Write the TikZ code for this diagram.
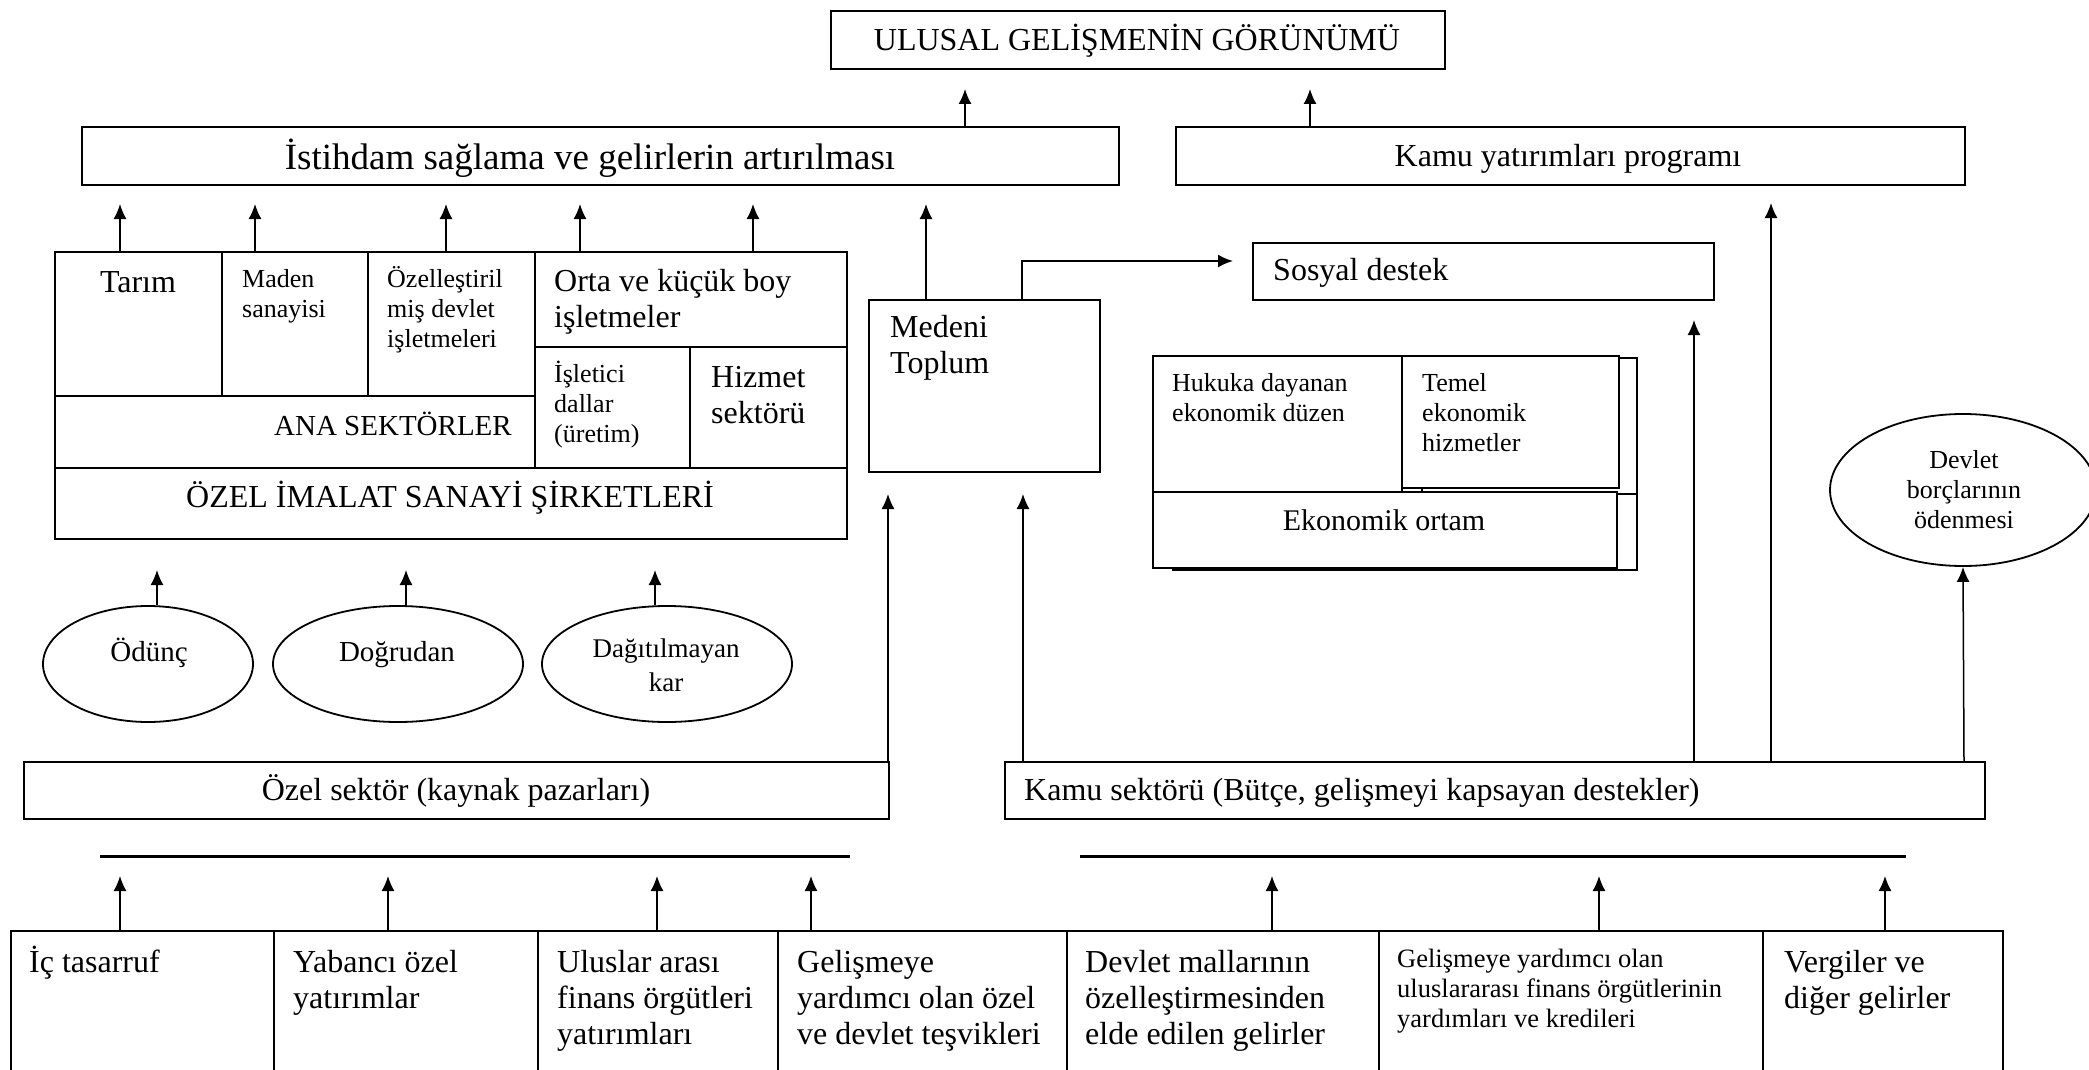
\documentclass[tikz,border=0pt]{standalone}
\usepackage{fontspec}
\setmainfont{Liberation Serif}
\usetikzlibrary{shapes.geometric,arrows.meta}
\begin{document}
\begin{tikzpicture}[x=1pt,y=-1pt,
  box/.style={draw, line width=2pt, fill=white, inner sep=0pt, anchor=north west},
  oval/.style={draw, ellipse, line width=1.8pt, fill=white, inner sep=0pt},
  t/.style={inner sep=0pt, anchor=base west, align=left},
  tc/.style={inner sep=0pt, anchor=base, align=center},
  te/.style={inner sep=0pt, anchor=base east, align=right},
  f37/.style={font=\fontsize{37}{42}\selectfont},
  f32/.style={font=\fontsize{32}{36}\selectfont},
  f30/.style={font=\fontsize{30}{35}\selectfont},
  f29/.style={font=\fontsize{29}{34}\selectfont},
  f27/.style={font=\fontsize{27}{34}\selectfont},
  f26/.style={font=\fontsize{26}{30}\selectfont},
  f265/.style={font=\fontsize{26.5}{30}\selectfont},
  arr/.style={line width=1.5pt, -{Latex[length=15pt,width=13pt]}},
  hline/.style={line width=3pt},
]
\clip (0,0) rectangle (2089,1070);

% (multi-line text nodes are placed at the baseline of their LAST line)

% ---------- top ----------
\node[box, minimum width=614, minimum height=58] (ulusal) at (830,10) {};
\node[tc,f32] (tulusal) at (1137,51) {ULUSAL GELİŞMENİN GÖRÜNÜMÜ};

\node[box, minimum width=1037, minimum height=58] (istihdam) at (81,126) {};
\node[tc,f37] (tistihdam) at (590,169) {İstihdam sağlama ve gelirlerin artırılması};

\node[box, minimum width=789, minimum height=58] (kamuyat) at (1175,126) {};
\node[tc,f32] (tkamuyat) at (1568,167) {Kamu yatırımları programı};

\coordinate (u1) at (965,89);
\coordinate (u2) at (1310,89);
\draw[arr] (u1 |- istihdam.north) -- (u1);
\draw[arr] (u2 |- kamuyat.north) -- (u2);

% ---------- sector block ----------
\node[box, minimum width=167, minimum height=144] (tarim) at (54,251) {};
\node[box, minimum width=146, minimum height=144] (maden) at (221,251) {};
\node[box, minimum width=167, minimum height=144] (ozell) at (367,251) {};
\node[box, minimum width=312, minimum height=95] (orta) at (534,251) {};
\node[box, minimum width=155, minimum height=121] (islet) at (534,346) {};
\node[box, minimum width=157, minimum height=121] (hizmet) at (689,346) {};
\node[box, minimum width=480, minimum height=72] (ana) at (54,395) {};
\node[box, minimum width=792, minimum height=71] (imalat) at (54,467) {};

\node[tc,f32] (ttarim) at (138,292) {Tarım};
\node[t,f26] (tmaden) at (242,317) {Maden\\sanayisi};
\node[t,f26] (tozell) at (387,347) {Özelleştiril\\miş devlet\\işletmeleri};
\node[t,f32] (torta) at (554,327) {Orta ve küçük boy\\işletmeler};
\node[t,f26] (tislet) at (554,442) {İşletici\\dallar\\(üretim)};
\node[t,f32] (thizmet) at (711,423) {Hizmet\\sektörü};
\node[te,f29] (tana) at (512,435) {ANA SEKTÖRLER};
\node[tc,f32] (timalat) at (450,507) {ÖZEL İMALAT SANAYİ ŞİRKETLERİ};

\coordinate (s1) at (120,204);
\coordinate (s2) at (255,204);
\coordinate (s3) at (446,204);
\coordinate (s4) at (580,204);
\coordinate (s5) at (753,204);
\draw[arr] (s1 |- tarim.north) -- (s1);
\draw[arr] (s2 |- maden.north) -- (s2);
\draw[arr] (s3 |- ozell.north) -- (s3);
\draw[arr] (s4 |- orta.north) -- (s4);
\draw[arr] (s5 |- orta.north) -- (s5);

% ---------- Medeni toplum, sosyal destek ----------
\node[box, minimum width=231, minimum height=172] (medeni) at (868,299) {};
\node[t,f32] (tmedeni) at (890,373) {Medeni\\Toplum};
\node[box, minimum width=461, minimum height=57] (sosyal) at (1252,242) {};
\node[t,f32] (tsosyal) at (1273,280) {Sosyal destek};

\coordinate (m1) at (926,204);
\draw[arr] (m1 |- medeni.north) -- (m1);
\coordinate (m2) at (1022,261);
\coordinate (m3) at (1233,261);
\draw[arr, line width=2pt] (m2 |- medeni.north) -- (m2) -- (m3);

% ---------- economic environment (stacked) ----------
\draw[line width=2pt] (1173,358) rectangle (1637,570);
\draw[line width=2pt] (1173,494) -- (1637,494);
\draw[line width=2pt] (1422,358) -- (1422,494);
\node[box, minimum width=249, minimum height=136] (hukuka) at (1152,355) {};
\node[box, minimum width=217, minimum height=132] (temel) at (1401,355) {};
\node[box, minimum width=464, minimum height=76] (ekoortam) at (1152,491) {};
\node[t,f26] (thukuka) at (1172,421) {Hukuka dayanan\\ekonomik düzen};
\node[t,f26] (ttemel) at (1422,451) {Temel\\ekonomik\\hizmetler};
\node[tc,f30] (tekoortam) at (1384,530) {Ekonomik ortam};

% ---------- Devlet borçları ----------
\node[oval, minimum width=266, minimum height=152] (devlet) at (1963,490) {};
\node[tc,f26] (tdevlet) at (1964,528) {Devlet\\borçlarının\\ödenmesi};

% ---------- ellipses ----------
\node[oval, minimum width=210, minimum height=116] (odunc) at (148,664) {};
\node[oval, minimum width=250, minimum height=116] (dogrudan) at (398,664) {};
\node[oval, minimum width=250, minimum height=116] (dagit) at (667,664) {};
\node[tc,f29] (todunc) at (149,661) {Ödünç};
\node[tc,f29] (tdogrudan) at (397,661) {Doğrudan};
\node[tc,f27] (tdagit) at (666,691) {Dağıtılmayan\\kar};

\coordinate (e1) at (157,570);
\coordinate (e2) at (406,570);
\coordinate (e3) at (655,570);
\draw[arr] (e1 |- odunc.north) -- (e1);
\draw[arr] (e2 |- dogrudan.north) -- (e2);
\draw[arr] (e3 |- dagit.north) -- (e3);

% ---------- sector sources ----------
\node[box, minimum width=865, minimum height=57] (ozelsek) at (23,761) {};
\node[tc,f32] (tozelsek) at (456,800) {Özel sektör (kaynak pazarları)};
\node[box, minimum width=980, minimum height=57] (kamusek) at (1004,761) {};
\node[t,f32] (tkamusek) at (1024,800) {Kamu sektörü (Bütçe, gelişmeyi kapsayan destekler)};

\coordinate (k0) at (888,494);
\coordinate (k1) at (1023,494);
\coordinate (k2) at (1694,320);
\coordinate (k3) at (1771,203);
\coordinate (k4) at (1964,0);
\draw[arr] (k0 |- ozelsek.north) -- (k0);
\draw[arr] (k1 |- kamusek.north) -- (k1);
\draw[arr] (k2 |- kamusek.north) -- (k2);
\draw[arr] (k3 |- kamusek.north) -- (k3);
\draw[arr] (k4 |- kamusek.north) -- (devlet.south);

% ---------- separator lines ----------
\draw[hline] (100,856) -- (850,856);
\draw[hline] (1080,856) -- (1906,856);

% ---------- bottom boxes ----------
\node[box, minimum width=263, minimum height=160] (b1) at (10,930) {};
\node[box, minimum width=264, minimum height=160] (b2) at (273,930) {};
\node[box, minimum width=240, minimum height=160] (b3) at (537,930) {};
\node[box, minimum width=289, minimum height=160] (b4) at (777,930) {};
\node[box, minimum width=312, minimum height=160] (b5) at (1066,930) {};
\node[box, minimum width=384, minimum height=160] (b6) at (1378,930) {};
\node[box, minimum width=240, minimum height=160] (b7) at (1762,930) {};

\node[t,f32] (tb1) at (29,972) {İç tasarruf};
\node[t,f32] (tb2) at (293,1008) {Yabancı özel\\yatırımlar};
\node[t,f32] (tb3) at (557,1044) {Uluslar arası\\finans örgütleri\\yatırımları};
\node[t,f32] (tb4) at (797,1044) {Gelişmeye\\yardımcı olan özel\\ve devlet teşvikleri};
\node[t,f32] (tb5) at (1085,1044) {Devlet mallarının\\özelleştirmesinden\\elde edilen gelirler};
\node[t,f265] (tb6) at (1397,1027) {Gelişmeye yardımcı olan\\uluslararası finans örgütlerinin\\yardımları ve kredileri};
\node[t,f32] (tb7) at (1784,1008) {Vergiler ve\\diğer gelirler};

\coordinate (a1) at (120,876);
\coordinate (a2) at (388,876);
\coordinate (a3) at (657,876);
\coordinate (a4) at (811,876);
\coordinate (a5) at (1272,876);
\coordinate (a6) at (1599,876);
\coordinate (a7) at (1885,876);
\draw[arr] (a1 |- b1.north) -- (a1);
\draw[arr] (a2 |- b2.north) -- (a2);
\draw[arr] (a3 |- b3.north) -- (a3);
\draw[arr] (a4 |- b4.north) -- (a4);
\draw[arr] (a5 |- b5.north) -- (a5);
\draw[arr] (a6 |- b6.north) -- (a6);
\draw[arr] (a7 |- b7.north) -- (a7);
\end{tikzpicture}
\end{document}
